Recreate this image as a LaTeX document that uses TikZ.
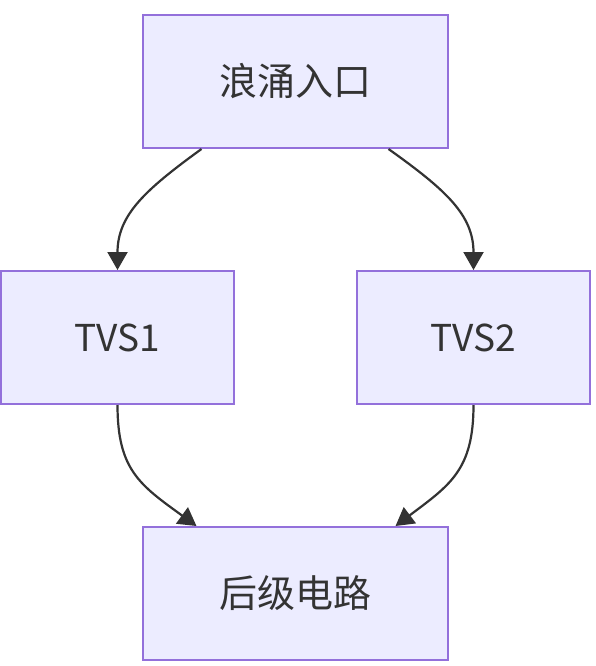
\documentclass[tikz,border=0pt]{standalone}
\usepackage{fontspec}
\setmainfont{Noto Sans CJK SC}
\usetikzlibrary{arrows.meta,calc}
\definecolor{nodefill}{HTML}{ECECFF}
\definecolor{nodeline}{HTML}{9370DB}
\definecolor{edgecol}{HTML}{333333}
\begin{document}
\begin{tikzpicture}[x=1pt,y=-1pt,
  box/.style={draw=nodeline,fill=nodefill,line width=2pt,minimum height=133pt,
    font=\fontsize{38}{42}\selectfont,text=edgecol,inner sep=0pt},
  wide/.style={box,minimum width=305pt},
  narrow/.style={box,minimum width=233pt},
  arr/.style={draw=edgecol,line width=2.2pt,-{Triangle[length=18pt,width=20pt]}}]
\useasboundingbox (0,0) rectangle (596,666);
\node[wide] (in) at (295.5,81.5) {浪涌入口};
\node[narrow] (t1) at (117.5,337.5) {\fontsize{37}{42}\selectfont TVS1};
\node[narrow] (t2) at (473.5,337.5) {\fontsize{37}{42}\selectfont TVS2};
\node[wide] (out) at (295.5,593.5) {后级电路};
\coordinate (a1) at ($(in.south)+(-94,0)$);
\coordinate (a2) at ($(in.south)+(93,0)$);
\coordinate (b1) at ($(out.north)+(-99,0)$);
\coordinate (b2) at ($(out.north)+(100,0)$);
\draw[arr] (a1) .. controls (145,190) and (t1.north |- 0,215) .. (t1.north);
\draw[arr] (a2) .. controls (446,190) and (t2.north |- 0,215) .. (t2.north);
\draw[arr] (t1.south) .. controls (117.5,470) and (140,485) .. (b1);
\draw[arr] (t2.south) .. controls (473.5,470) and (450,485) .. (b2);
\end{tikzpicture}
\end{document}
